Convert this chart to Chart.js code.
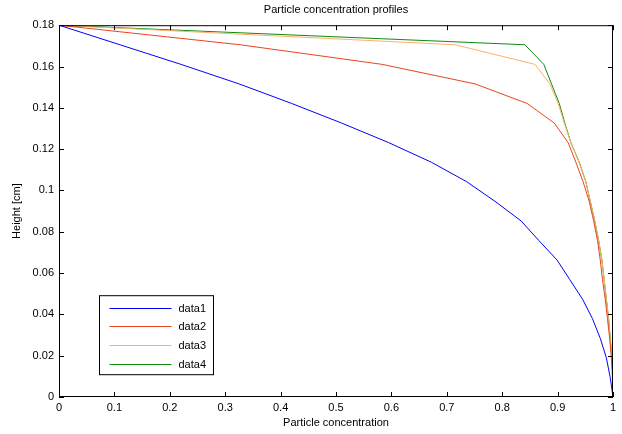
<!DOCTYPE html>
<html>
<head>
<meta charset="utf-8">
<script src="https://cdn.jsdelivr.net/npm/chart.js@4.4.0/dist/chart.umd.min.js"></script>
<style>
  html, body { margin: 0; padding: 0; background: #fff; }
  #wrap { width: 622px; height: 434px; }
</style>
</head>
<body>
<div id="wrap"><canvas id="c" width="622" height="434"></canvas></div>
<script>
// heights (cm), from bottom to top: 20 levels 0 .. 0.18
const heights = [0, 0.00947, 0.01895, 0.02842, 0.03789, 0.04737, 0.05684, 0.06632, 0.07579, 0.08526,
  0.09474, 0.10421, 0.11368, 0.12316, 0.13263, 0.14211, 0.15158, 0.16105, 0.17053, 0.18];

// particle concentration at each height
const data1 = [1.0, 0.995, 0.988, 0.977, 0.963, 0.945, 0.922, 0.899, 0.866, 0.834,
  0.787, 0.736, 0.672, 0.595, 0.51, 0.42, 0.325, 0.22, 0.11, 0];
const data2 = [1.0, 0.999, 0.997, 0.994, 0.99, 0.986, 0.981, 0.977, 0.972, 0.965,
  0.957, 0.946, 0.933, 0.919, 0.894, 0.845, 0.751, 0.583, 0.327, 0];
const data3 = [1.0, 1.0, 0.998, 0.995, 0.992, 0.988, 0.984, 0.98, 0.974, 0.967,
  0.959, 0.951, 0.939, 0.924, 0.912, 0.901, 0.886, 0.859, 0.715, 0];
const data4 = [1.0, 1.0, 0.998, 0.995, 0.992, 0.988, 0.984, 0.98, 0.974, 0.967,
  0.959, 0.951, 0.939, 0.924, 0.913, 0.903, 0.889, 0.875, 0.841, 0];

const seriesNames = ["data1", "data2", "data3", "data4"];
const seriesColors = ["#0000ff", "#e8461e", "#ffb068", "#118a11"];

const xTicks = [0, 0.1, 0.2, 0.3, 0.4, 0.5, 0.6, 0.7, 0.8, 0.9, 1];
const yTicks = [0, 0.02, 0.04, 0.06, 0.08, 0.1, 0.12, 0.14, 0.16, 0.18];

const FONT = "'Liberation Sans', Arial, sans-serif";

function toPoints(xs) {
  return xs.map((x, i) => ({ x: x, y: heights[i] }));
}

// frame + inward ticks, MATLAB style
const framePlugin = {
  id: "frame",
  afterDraw(chart) {
    const { ctx, chartArea: a, scales } = chart;
    ctx.save();
    ctx.strokeStyle = "#000";
    ctx.lineWidth = 1;
    ctx.strokeRect(a.left + 0.5, a.top + 0.5, a.right - a.left - 1, a.bottom - a.top - 1);
    const tl = 5;
    ctx.beginPath();
    xTicks.forEach(v => {
      const px = Math.round(scales.x.getPixelForValue(v)) + 0.5;
      ctx.moveTo(px, a.bottom); ctx.lineTo(px, a.bottom - tl);
      ctx.moveTo(px, a.top); ctx.lineTo(px, a.top + tl);
    });
    yTicks.forEach(v => {
      const py = Math.round(scales.y.getPixelForValue(v)) + 0.5;
      ctx.moveTo(a.left, py); ctx.lineTo(a.left + tl, py);
      ctx.moveTo(a.right, py); ctx.lineTo(a.right - tl, py);
    });
    ctx.stroke();

    // legend box in lower left
    const bx = a.left + 40.5, by = a.top + 270.5, bw = 114, bh = 79;
    ctx.fillStyle = "#fff";
    ctx.fillRect(bx, by, bw, bh);
    ctx.strokeRect(bx, by, bw, bh);
    ctx.font = "11px " + FONT;
    ctx.textAlign = "left";
    ctx.textBaseline = "middle";
    chart.data.datasets.forEach((ds, i) => {
      const ry = Math.round(by + 12 + i * 18.6) + 0.5;
      ctx.strokeStyle = ds.borderColor;
      ctx.beginPath();
      ctx.moveTo(bx + 10, ry); ctx.lineTo(bx + 72, ry);
      ctx.stroke();
      ctx.fillStyle = "#000";
      ctx.fillText(ds.label, bx + 79, ry);
    });
    ctx.restore();
  }
};

const datasets = [data1, data2, data3, data4].map((xs, i) => ({
  label: seriesNames[i],
  data: toPoints(xs),
  borderColor: seriesColors[i],
  backgroundColor: seriesColors[i],
  borderWidth: 1,
  pointRadius: 0,
  tension: 0,
  fill: false
}));

new Chart(document.getElementById("c"), {
  type: "line",
  data: { datasets: datasets },
  options: {
    responsive: false,
    animation: false,
    events: [],
    layout: { padding: { left: 0, right: 9, top: 0, bottom: 0 } },
    plugins: {
      legend: { display: false },
      tooltip: { enabled: false },
      title: {
        display: true,
        fullSize: false,
        text: "Particle concentration profiles",
        color: "#000",
        font: { family: FONT, size: 11, weight: "normal" },
        padding: { top: 3, bottom: 9 }
      }
    },
    scales: {
      x: {
        type: "linear",
        min: 0, max: 1,
        afterBuildTicks: s => { s.ticks = xTicks.map(v => ({ value: v })); },
        afterFit: s => { s.height = 37; },
        grid: { display: false, drawTicks: false },
        border: { display: false },
        ticks: {
          padding: 4,
          color: "#000",
          font: { family: FONT, size: 11 },
          maxRotation: 0,
          callback: v => String(+v.toFixed(2))
        },
        title: {
          display: true,
          text: "Particle concentration",
          color: "#000",
          font: { family: FONT, size: 11 },
          padding: { top: 0, bottom: 4 }
        }
      },
      y: {
        type: "linear",
        min: 0, max: 0.18,
        afterBuildTicks: s => { s.ticks = yTicks.map(v => ({ value: v })); },
        afterFit: s => { s.width = 59; },
        grid: { display: false, drawTicks: false },
        border: { display: false },
        ticks: {
          padding: 5,
          color: "#000",
          font: { family: FONT, size: 11 },
          callback: v => String(+v.toFixed(2))
        },
        title: {
          display: true,
          text: "Height [cm]",
          color: "#000",
          font: { family: FONT, size: 11 },
          padding: { top: 10, bottom: 0 }
        }
      }
    }
  },
  plugins: [framePlugin]
});
</script>
</body>
</html>
